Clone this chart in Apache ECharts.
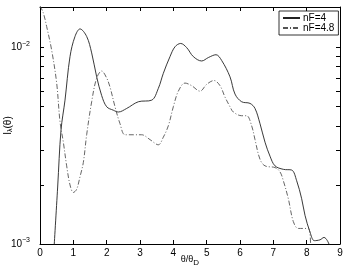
<!DOCTYPE html>
<html><head><meta charset="utf-8">
<script src="https://cdn.jsdelivr.net/npm/echarts@6/dist/echarts.min.js"></script>
<style>html,body{margin:0;padding:0;background:#fff}#c{width:346px;height:270px}</style>
</head><body><div id="c"></div>
<script>
// theta/theta_D values and intensities for each series
const thetaA = [0.42,0.53,0.63,0.75,0.9,1.05,1.2,1.4,1.55,1.7,1.85,2.0,2.2,2.35,2.6,2.95,3.35,3.55,3.7,3.9,4.05,4.22,4.4,4.6,4.85,5.05,5.28,5.45,5.7,5.85,6.05,6.3,6.45,6.6,6.75,6.9,7.05,7.3,7.55,7.7,7.85,7.95,8.1,8.23,8.4,8.52,8.62,8.72];
const nF4 = [0.00095,0.00195,0.0038,0.0054,0.009,0.0114,0.01245,0.0114,0.0094,0.0071,0.0057,0.0050,0.0048,0.0047,0.0049,0.0053,0.0054,0.0062,0.0074,0.0090,0.0101,0.0105,0.0100,0.0090,0.00855,0.0089,0.0092,0.0086,0.0071,0.0058,0.0053,0.0052,0.0049,0.0041,0.0033,0.0028,0.0025,0.0024,0.00238,0.0021,0.0017,0.0014,0.00115,0.00104,0.00105,0.00108,0.00104,0.00095];
const thetaB = [0,0.1,0.2,0.35,0.5,0.6,0.7,0.8,0.9,1.0,1.1,1.2,1.3,1.4,1.55,1.7,1.85,2.0,2.1,2.25,2.4,2.55,2.8,3.05,3.3,3.55,3.7,3.85,4.0,4.15,4.35,4.55,4.8,5.0,5.22,5.4,5.55,5.7,5.8,6.05,6.2,6.35,6.45,6.6,6.75,7.05,7.2,7.3,7.45,7.6,7.75,8.05,8.12];
const nF48 = [0.0163,0.0150,0.0128,0.0097,0.0066,0.0042,0.0033,0.0025,0.0020,0.00183,0.0019,0.0022,0.0026,0.0036,0.0053,0.0070,0.0076,0.0070,0.0063,0.0050,0.0041,0.0036,0.0036,0.0036,0.0034,0.0032,0.0035,0.0040,0.0050,0.0060,0.0066,0.0064,0.0060,0.0065,0.0068,0.0064,0.0056,0.0050,0.0047,0.0045,0.0045,0.0040,0.0034,0.0027,0.0025,0.00245,0.00233,0.0021,0.0017,0.0013,0.0012,0.0012,0.00095];
const xTicks = [0,1,2,3,4,5,6,7,8,9];
const yLabelValues = [0.001, 0.01];
const yTickValues = [0.001,0.002,0.003,0.004,0.005,0.006,0.007,0.008,0.009,0.01];
const seriesNames = ['nF=4','nF=4.8'];

const FONT = 'Liberation Sans';
const chart = echarts.init(document.getElementById('c'), null, {renderer:'canvas'});
const pairs = (xs, ys) => xs.map((x,i)=>[x, ys[i]]);
const yLabelFmt = v => {
  const e = Math.round(Math.log10(v));
  return '10{sup|' + (e<0 ? '\u2212' + (-e) : e) + '}';
};
const axisLine = {show:true, onZero:false, lineStyle:{color:'#000', width:1}};
const xBase = {type:'value', min:0, max:9, interval:1, splitLine:{show:false},
  axisLine: axisLine, axisTick:{show:true, inside:true, length:4, customValues:xTicks, lineStyle:{color:'#000'}}};
const yBase = {type:'log', logBase:10, min:0.001, max:0.0161, splitLine:{show:false},
  axisLine: axisLine,
  axisTick:{show:true, inside:true, length:4, customValues:yTickValues, lineStyle:{color:'#000'}}};
chart.setOption({
  animation:false,
  backgroundColor:'#fff',
  grid:{left:40, right:6, top:7, bottom:26, containLabel:false, outerBoundsMode:'none'},
  legend:{
    data:seriesNames, orient:'vertical', left:279, top:11,
    itemWidth:17, itemHeight:10, itemGap:0,
    padding:[2,4,2,3], borderColor:'#000', borderWidth:0.8, backgroundColor:'#fff',
    itemStyle:{opacity:0},
    textStyle:{fontFamily:FONT, fontSize:10, color:'#000', padding:[0,0,0,-2]}
  },
  xAxis:[
    Object.assign({}, xBase, {position:'bottom',
      axisLabel:{customValues:xTicks, fontFamily:FONT, fontSize:10, color:'#000', margin:4},
      name:'\u03b8/\u03b8{sub|D}', nameLocation:'middle', nameGap:9, nameMoveOverlap:false,
      nameTextStyle:{fontFamily:FONT, fontSize:9, color:'#000', verticalAlign:'top',
        rich:{sub:{fontFamily:FONT, fontSize:8, padding:[6,0,0,0], color:'#000'}}}}),
    Object.assign({}, xBase, {position:'top', axisLabel:{show:false}})
  ],
  yAxis:[
    Object.assign({}, yBase, {position:'left',
      axisLabel:{customValues:yLabelValues, formatter:yLabelFmt, margin:10,
        fontFamily:FONT, fontSize:10, color:'#000',
        rich:{sup:{fontFamily:FONT, fontSize:7, color:'#000', padding:[0,0,8,0]}}},
      name:'I{sub|\u03bb}(\u03b8)', nameLocation:'middle', nameGap:26, nameRotate:90, nameMoveOverlap:false,
      nameTextStyle:{fontFamily:FONT, fontSize:10, color:'#000',
        rich:{sub:{fontFamily:FONT, fontSize:7, padding:[5,0,0,0], color:'#000'}}}}),
    Object.assign({}, yBase, {position:'right', axisLabel:{show:false}})
  ],
  series:[
    {name:seriesNames[0], type:'line', data:pairs(thetaA,nF4), smooth:0.35, symbol:'none',
     clip:true, lineStyle:{color:'#222', width:0.9, type:'solid'}, itemStyle:{color:'#222'}},
    {name:seriesNames[1], type:'line', data:pairs(thetaB,nF48), smooth:0.35, symbol:'none',
     clip:true, lineStyle:{color:'#555', width:0.9, type:[5,2,1,2]}, itemStyle:{color:'#555'}}
  ]
});
</script></body></html>
